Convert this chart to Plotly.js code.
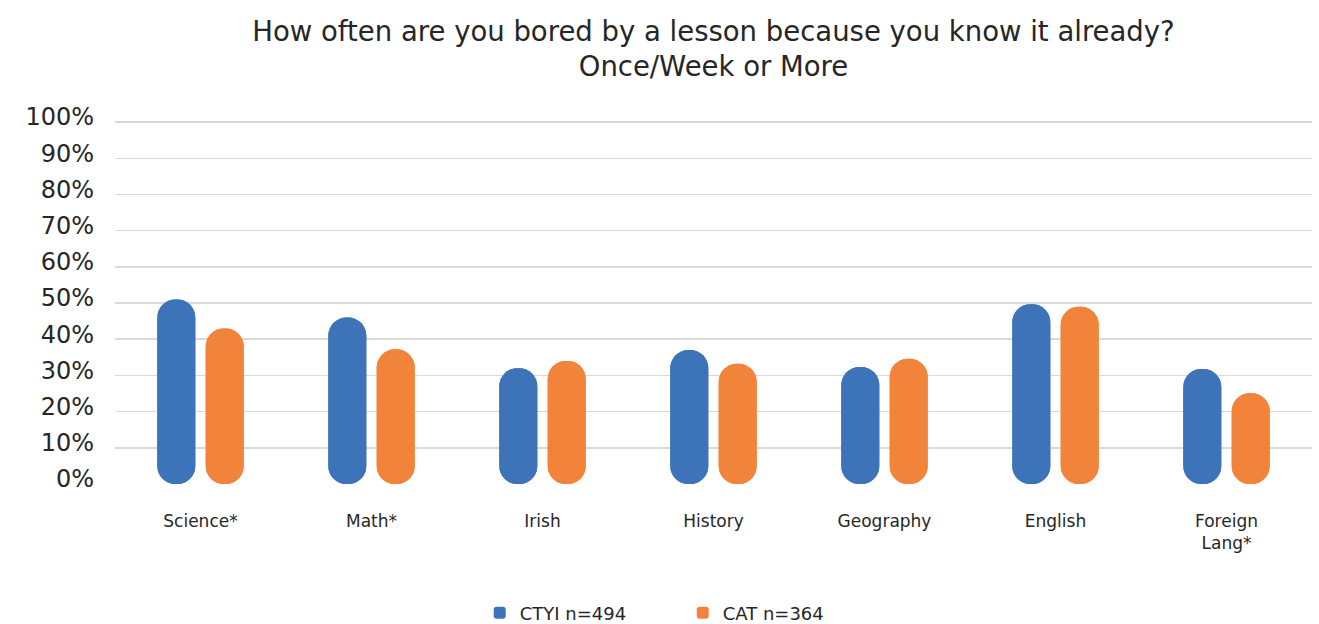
<!DOCTYPE html>
<html>
<head>
<meta charset="utf-8">
<script src="https://cdn.plot.ly/plotly-3.0.1.min.js"></script>
<style>
  html, body { margin: 0; padding: 0; background: #ffffff; }
  #chart { width: 1319px; height: 624px; }
</style>
</head>
<body>
<div id="chart"></div>
<script>
// Subjects on the x axis
const subjects = ['Science*', 'Math*', 'Irish', 'History', 'Geography', 'English', 'Foreign<br>Lang*'];

// Share of students bored once a week or more (%)
const ctyiValues = [51, 46, 32, 37, 32.3, 49.7, 31.8];
const catValues  = [43, 37.2, 34, 33.2, 34.6, 49, 25.1];

const seriesNames = ['CTYI n=494', 'CAT n=364'];
const seriesColors = ['#3d73b9', '#f2833b'];

const yTicks = [0, 10, 20, 30, 40, 50, 60, 70, 80, 90, 100];

const FONT = '"DejaVu Sans", "Open Sans", sans-serif';
const TEXT = '#262626';

// Each series is drawn as a pill: an upward bar rounded at the top plus a
// downward bar (from the value back to zero) rounded at the bottom,
// both sharing one offset group so they sit in the same slot.
function pill(values, name, color, group) {
  const up = {
    type: 'bar', x: subjects, y: values, base: 0,
    name: name, offsetgroup: group, legendgroup: group,
    marker: { color: color, cornerradius: '50%', line: { width: 0 } },
    hoverinfo: 'skip'
  };
  const down = {
    type: 'bar', x: subjects, y: values.map(v => -v), base: values,
    name: name, offsetgroup: group, legendgroup: group, showlegend: false,
    marker: { color: color, cornerradius: '50%', line: { width: 0 } },
    hoverinfo: 'skip'
  };
  return [up, down];
}

const data = [
  ...pill(ctyiValues, seriesNames[0], seriesColors[0], 'ctyi'),
  ...pill(catValues, seriesNames[1], seriesColors[1], 'cat')
];

const layout = {
  width: 1319, height: 624,
  paper_bgcolor: '#ffffff', plot_bgcolor: '#ffffff',
  margin: { l: 115, r: 7, t: 121, b: 140, pad: 0, autoexpand: false },
  font: { family: FONT, color: TEXT },
  title: {
    text: 'How often are you bored by a lesson because you know it already?<br>Once/Week or More',
    font: { family: FONT, size: 27.5, color: TEXT },
    x: 0.5, xref: 'paper', xanchor: 'center',
    y: 0.935, yref: 'container', yanchor: 'top'
  },
  barmode: 'group',
  bargap: 0.434,
  bargroupgap: 0.215,
  showlegend: true,
  legend: {
    orientation: 'h',
    xref: 'container', yref: 'container',
    x: 0.3637, xanchor: 'left',
    y: 0.047, yanchor: 'top',
    entrywidth: 158, entrywidthmode: 'pixels',
    font: { family: FONT, size: 18, color: TEXT },
    traceorder: 'normal'
  },
  xaxis: {
    type: 'category', automargin: false, tickangle: 0,
    showgrid: false, showline: false, zeroline: false,
    ticks: '', ticklabelstandoff: 25,
    tickfont: { family: FONT, size: 17, color: TEXT }
  },
  yaxis: {
    range: [0, 100.3], automargin: false,
    tickvals: yTicks,
    ticktext: yTicks.map(t => t + '%'),
    showgrid: true, gridcolor: '#d9d9d9', gridwidth: 1.5,
    showline: false, zeroline: false,
    ticks: '', ticklabelstandoff: 20, ticklabelshift: -5,
    tickfont: { family: FONT, size: 24, color: TEXT }
  }
};

Plotly.newPlot('chart', data, layout, { displayModeBar: false, staticPlot: true });
</script>
</body>
</html>
